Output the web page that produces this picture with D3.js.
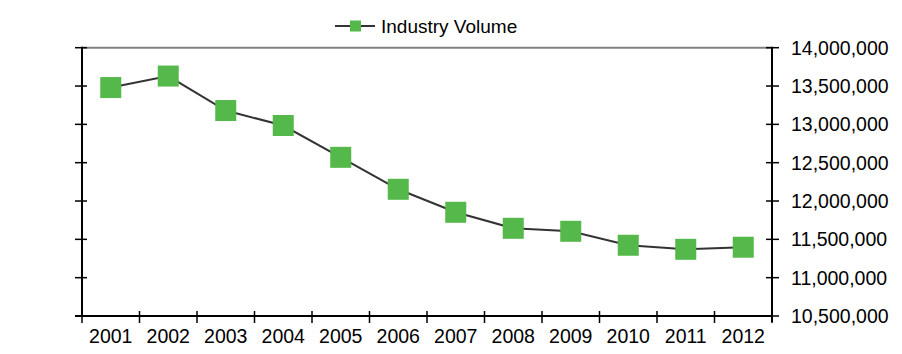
<!DOCTYPE html>
<html>
<head>
<meta charset="utf-8">
<script src="https://cdnjs.cloudflare.com/ajax/libs/d3/7.8.5/d3.min.js"></script>
<style>
    body { margin: 0; background: #fff; }
    text { font-family: Arial, "Liberation Sans", sans-serif; fill: #000; }
</style>
</head>
<body>
<div id="chart"></div>
<script>
var years = ['2001', '2002', '2003', '2004', '2005', '2006', '2007', '2008', '2009', '2010', '2011', '2012']
var industryVolume = [13480000, 13630000, 13180000, 12985000, 12570000, 12153000, 11853000, 11644000, 11605000, 11423000, 11370000, 11397000]
var yTicks = [10500000, 11000000, 11500000, 12000000, 12500000, 13000000, 13500000, 14000000]
var seriesName = 'Industry Volume'

var width = 902, height = 354
var plotLeft = 82, plotRight = 772, plotTop = 47.7, plotBottom = 316

var svg = d3.select('#chart')
    .append('svg')
    .attr('width', width)
    .attr('height', height)

var x = d3.scaleBand()
    .domain(years)
    .range([plotLeft, plotRight])

var y = d3.scaleLinear()
    .domain([10500000, 14000000])
    .range([plotBottom, plotTop])

// top border line (grey)
svg.append('line')
    .attr('x1', plotLeft).attr('x2', plotRight)
    .attr('y1', y(14000000)).attr('y2', y(14000000))
    .attr('stroke', '#808080')
    .attr('stroke-width', 2)

// left axis: ticks only, no labels
var leftAxis = svg.append('g')
leftAxis.append('line')
    .attr('x1', plotLeft).attr('x2', plotLeft)
    .attr('y1', plotTop - 1).attr('y2', plotBottom)
    .attr('stroke', '#000').attr('stroke-width', 2)
leftAxis.selectAll('line.tick')
    .data(yTicks)
    .enter()
    .append('line')
    .attr('class', 'tick')
    .attr('x1', plotLeft - 7).attr('x2', plotLeft + 5)
    .attr('y1', function(d) { return y(d) })
    .attr('y2', function(d) { return y(d) })
    .attr('stroke', '#000').attr('stroke-width', 1.5)

// right axis with labels
var rightAxis = svg.append('g')
rightAxis.append('line')
    .attr('x1', plotRight).attr('x2', plotRight)
    .attr('y1', plotTop - 1).attr('y2', plotBottom + 6)
    .attr('stroke', '#000').attr('stroke-width', 2)
rightAxis.selectAll('line.tick')
    .data(yTicks)
    .enter()
    .append('line')
    .attr('class', 'tick')
    .attr('x1', plotRight - 6).attr('x2', plotRight + 7)
    .attr('y1', function(d) { return y(d) })
    .attr('y2', function(d) { return y(d) })
    .attr('stroke', '#000').attr('stroke-width', 1.5)
rightAxis.selectAll('text')
    .data(yTicks)
    .enter()
    .append('text')
    .attr('x', plotRight + 19)
    .attr('y', function(d) { return y(d) })
    .attr('dy', '0.36em')
    .style('font-size', '19.5px')
    .text(function(d) { return d3.format(',')(d) })

// bottom axis
var xAxis = svg.append('g')
xAxis.append('line')
    .attr('x1', plotLeft - 7).attr('x2', plotRight)
    .attr('y1', plotBottom).attr('y2', plotBottom)
    .attr('stroke', '#000').attr('stroke-width', 2)
var tickPos = years.map(function(d) { return x(d) }).concat([plotRight])
xAxis.selectAll('line.tick')
    .data(tickPos)
    .enter()
    .append('line')
    .attr('class', 'tick')
    .attr('x1', function(d) { return d }).attr('x2', function(d) { return d })
    .attr('y1', plotBottom - 5).attr('y2', plotBottom + 7)
    .attr('stroke', '#000').attr('stroke-width', 1.5)
xAxis.selectAll('text')
    .data(years)
    .enter()
    .append('text')
    .attr('x', function(d) { return x(d) + x.bandwidth() / 2 })
    .attr('y', plotBottom + 27)
    .attr('text-anchor', 'middle')
    .style('font-size', '19.5px')
    .text(function(d) { return d })

// series line
var line = d3.line()
    .x(function(d, i) { return x(years[i]) + x.bandwidth() / 2 })
    .y(function(d) { return y(d) })

svg.append('path')
    .datum(industryVolume)
    .attr('d', line)
    .attr('fill', 'none')
    .attr('stroke', '#333333')
    .attr('stroke-width', 2)

var ms = 21
svg.selectAll('rect.marker')
    .data(industryVolume)
    .enter()
    .append('rect')
    .attr('class', 'marker')
    .attr('x', function(d, i) { return x(years[i]) + x.bandwidth() / 2 - ms / 2 })
    .attr('y', function(d) { return y(d) - ms / 2 })
    .attr('width', ms)
    .attr('height', ms)
    .attr('fill', '#55b84a')

// legend
var legend = svg.append('g').attr('transform', 'translate(335,26)')
legend.append('line')
    .attr('x1', 0).attr('x2', 40)
    .attr('y1', 0).attr('y2', 0)
    .attr('stroke', '#333333').attr('stroke-width', 2)
legend.append('rect')
    .attr('x', 15).attr('y', -5.5)
    .attr('width', 11).attr('height', 11)
    .attr('fill', '#55b84a')
legend.append('text')
    .attr('x', 46)
    .attr('y', 0)
    .attr('dy', '0.36em')
    .style('font-size', '19px')
    .text(seriesName)
</script>
</body>
</html>
